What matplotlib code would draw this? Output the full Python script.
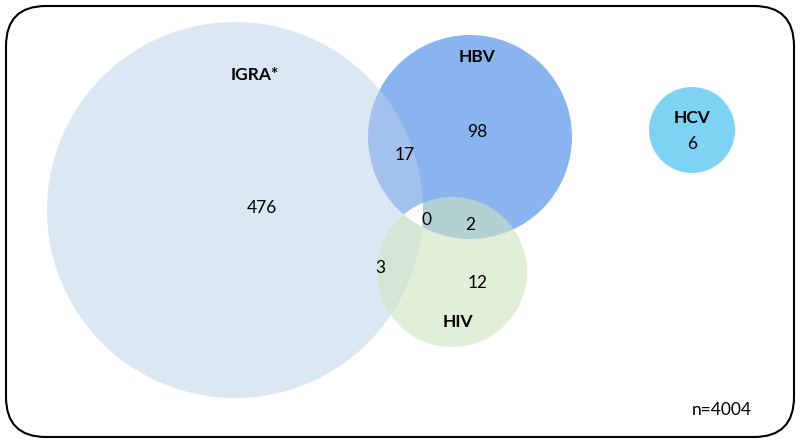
import matplotlib
matplotlib.use('Agg')
import matplotlib.pyplot as plt
from matplotlib.patches import Circle, FancyBboxPatch, Polygon
import numpy as np

# sets: name, centre (px), radius (px), colour
set_names = ['IGRA*', 'HBV', 'HIV', 'HCV']
set_centres = [(235, 210), (470, 137), (452, 272), (692, 130)]
set_radii = [188, 102, 75, 43]
set_colours = ['#bbd1eb', '#8ab4f0', '#d0e5bf', '#7ed3f5']
set_alphas = [0.5, 1.0, 0.6, 1.0]
draw_order = [1, 0, 2, 3]
label_pos = [(255, 75), (477, 57), (458, 322), (692, 118)]

# region counts
counts = ['476', '17', '98', '0', '2', '3', '12', '6']
count_pos = [(262, 208), (405, 155), (477, 132), (426, 220), (470, 225),
             (380, 268), (478, 283), (692, 144)]
total_text = 'n=4004'

fig = plt.figure(figsize=(8, 4.43), dpi=100)
ax = fig.add_axes([0, 0, 1, 1])
ax.set_xlim(0, 800)
ax.set_ylim(443, 0)
ax.axis('off')

ax.add_patch(FancyBboxPatch((6, 6), 788, 431, boxstyle='round,pad=0,rounding_size=40',
                            fc='white', ec='black', lw=1.5))

for i in draw_order:
    ax.add_patch(Circle(set_centres[i], set_radii[i], fc=set_colours[i], ec='none',
                        alpha=set_alphas[i]))

# white triple intersection of the first three sets
pts = []
for i in range(3):
    t = np.linspace(0, 2 * np.pi, 720)
    xs = set_centres[i][0] + set_radii[i] * np.cos(t)
    ys = set_centres[i][1] + set_radii[i] * np.sin(t)
    for x, y in zip(xs, ys):
        ok = all(np.hypot(x - set_centres[j][0], y - set_centres[j][1]) <= set_radii[j] + 0.5
                 for j in range(3) if j != i)
        if ok:
            pts.append((x, y))
pts = np.array(pts)
cen = pts.mean(axis=0)
order = np.argsort(np.arctan2(pts[:, 1] - cen[1], pts[:, 0] - cen[0]))
ax.add_patch(Polygon(pts[order], fc='white', ec='none'))

fam = ['Lato', 'DejaVu Sans']
for name, p in zip(set_names, label_pos):
    ax.text(p[0], p[1], name, ha='center', va='center', fontsize=12.5,
            fontweight='bold', family=fam)
for t, p in zip(counts, count_pos):
    ax.text(p[0], p[1], t, ha='center', va='center', fontsize=12.5, family=fam)
ax.text(722, 410, total_text, ha='center', va='center', fontsize=12.5, family=fam)

fig.savefig('out.png', dpi=100)
